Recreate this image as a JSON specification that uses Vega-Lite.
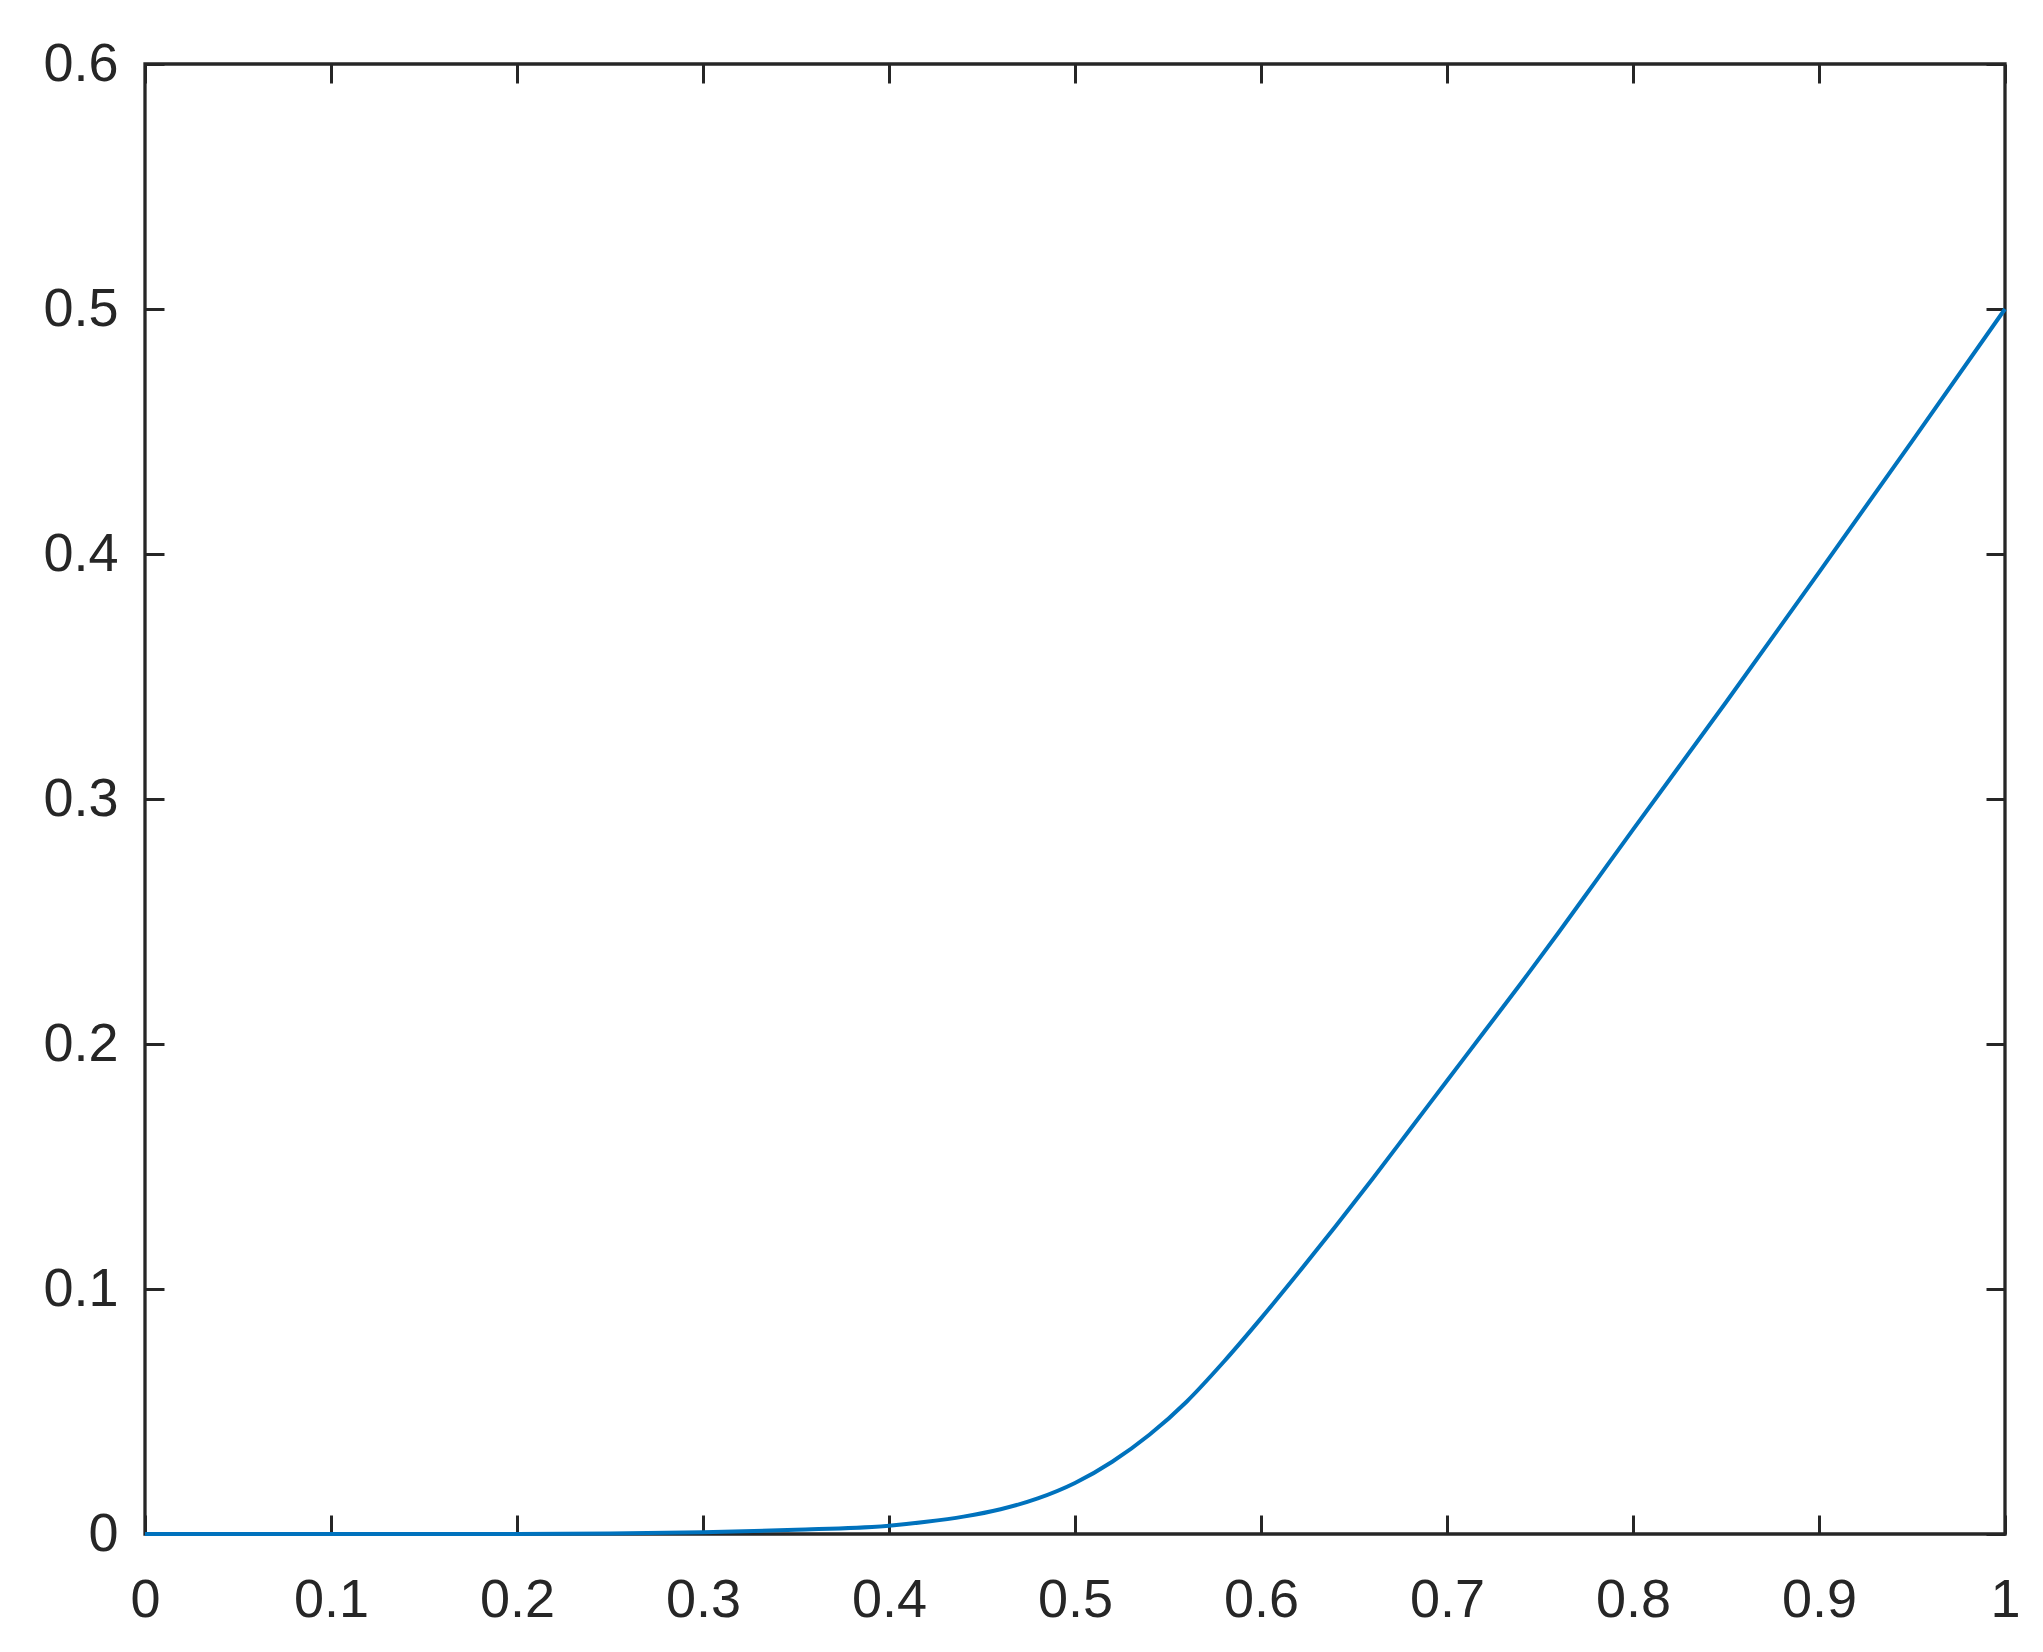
{
  "$schema": "https://vega.github.io/schema/vega-lite/v6.json",
  "width": 1860,
  "height": 1470,
  "autosize": {"type": "none"},
  "padding": {"left": 145, "top": 64, "right": 38, "bottom": 118},
  "background": "white",
  "config": {
    "view": {"stroke": "#262626", "strokeWidth": 3.3},
    "axis": {
      "grid": false,
      "domain": false,
      "title": null,
      "tickColor": "#262626",
      "tickWidth": 3,
      "tickSize": -19,
      "labelFont": "Liberation Sans",
      "labelFontSize": 54,
      "labelColor": "#262626",
      "labelFlush": false,
      "labelOverlap": false
    }
  },
  "data": {
    "values": [
      {"x": 0, "y": 0},
      {"x": 0.05, "y": 0},
      {"x": 0.1, "y": 0},
      {"x": 0.15, "y": 0},
      {"x": 0.2, "y": 0},
      {"x": 0.25, "y": 0.0002},
      {"x": 0.3, "y": 0.0007},
      {"x": 0.35, "y": 0.0017},
      {"x": 0.4, "y": 0.0034},
      {"x": 0.42, "y": 0.005},
      {"x": 0.44, "y": 0.0071},
      {"x": 0.46, "y": 0.0101},
      {"x": 0.48, "y": 0.0145},
      {"x": 0.5, "y": 0.0208},
      {"x": 0.52, "y": 0.0295},
      {"x": 0.54, "y": 0.0405},
      {"x": 0.56, "y": 0.054},
      {"x": 0.58, "y": 0.0703},
      {"x": 0.6, "y": 0.088},
      {"x": 0.62, "y": 0.1065},
      {"x": 0.64, "y": 0.1255},
      {"x": 0.66, "y": 0.145},
      {"x": 0.68, "y": 0.165},
      {"x": 0.7, "y": 0.185},
      {"x": 0.72, "y": 0.205},
      {"x": 0.74, "y": 0.225},
      {"x": 0.76, "y": 0.2455},
      {"x": 0.78, "y": 0.2665},
      {"x": 0.8, "y": 0.2875},
      {"x": 0.85, "y": 0.3395},
      {"x": 0.9, "y": 0.3925},
      {"x": 0.95, "y": 0.446},
      {"x": 1.0, "y": 0.5}
    ]
  },
  "layer": [
    {
      "mark": {"type": "line", "color": "#0072BD", "strokeWidth": 4, "interpolate": "monotone"},
      "encoding": {
        "x": {
          "field": "x", "type": "quantitative",
          "scale": {"domain": [0, 1], "nice": false, "zero": false},
          "axis": {"orient": "bottom", "values": [0, 0.1, 0.2, 0.3, 0.4, 0.5, 0.6, 0.7, 0.8, 0.9, 1], "format": ".1~f", "labelPadding": 58}
        },
        "y": {
          "field": "y", "type": "quantitative",
          "scale": {"domain": [0, 0.6], "nice": false},
          "axis": {"orient": "left", "values": [0, 0.1, 0.2, 0.3, 0.4, 0.5, 0.6], "format": ".1~f", "labelPadding": 46}
        }
      }
    },
    {
      "mark": {"type": "line", "strokeOpacity": 0},
      "encoding": {
        "x": {
          "field": "x", "type": "quantitative",
          "scale": {"domain": [0, 1], "nice": false, "zero": false},
          "axis": {"orient": "top", "labels": false, "values": [0, 0.1, 0.2, 0.3, 0.4, 0.5, 0.6, 0.7, 0.8, 0.9, 1]}
        },
        "y": {
          "field": "y", "type": "quantitative",
          "scale": {"domain": [0, 0.6], "nice": false},
          "axis": {"orient": "right", "labels": false, "values": [0, 0.1, 0.2, 0.3, 0.4, 0.5, 0.6]}
        }
      }
    }
  ],
  "resolve": {"axis": {"x": "independent", "y": "independent"}}
}
